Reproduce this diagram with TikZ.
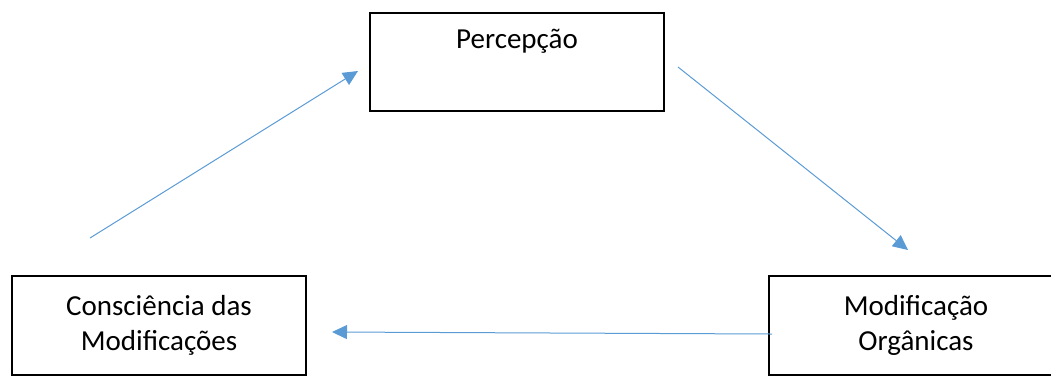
\documentclass[tikz,border=0pt]{standalone}
\usepackage{fontspec}
\setmainfont{Carlito}
\usetikzlibrary{arrows.meta}
\definecolor{seta}{HTML}{5B9BD5}
\begin{document}
\begin{tikzpicture}[
			x=1pt,y=-1pt,
			caixa/.style={draw,line width=1.5pt,rectangle,minimum width=294pt,minimum height=98pt,align=center,font=\fontsize{29}{35}\selectfont},
			seta/.style={draw=seta,line width=1pt,-{Triangle[length=15pt,width=14pt]}}
		]
		\useasboundingbox (0,0) rectangle (1051,376);
		\node[caixa] (perc) at (517,62) {Percepção\\\strut};
		\node[caixa,minimum height=99pt] (consc) at (159,325.5) {Consciência das\\Modificações};
		\node[caixa,minimum height=99pt] (modif) at (916,325.5) {Modificação\\Orgânicas};
		\coordinate (a1) at (90,238);
		\coordinate (b1) at (358,71);
		\coordinate (a2) at (678,67);
		\coordinate (b2) at (908,250);
		\coordinate (a3) at (772,334);
		\coordinate (b3) at (332,332);
		\draw[seta] (a1) -- (b1);
		\draw[seta] (a2) -- (b2);
		\draw[seta] (a3) -- (b3);
	\end{tikzpicture}
\end{document}
